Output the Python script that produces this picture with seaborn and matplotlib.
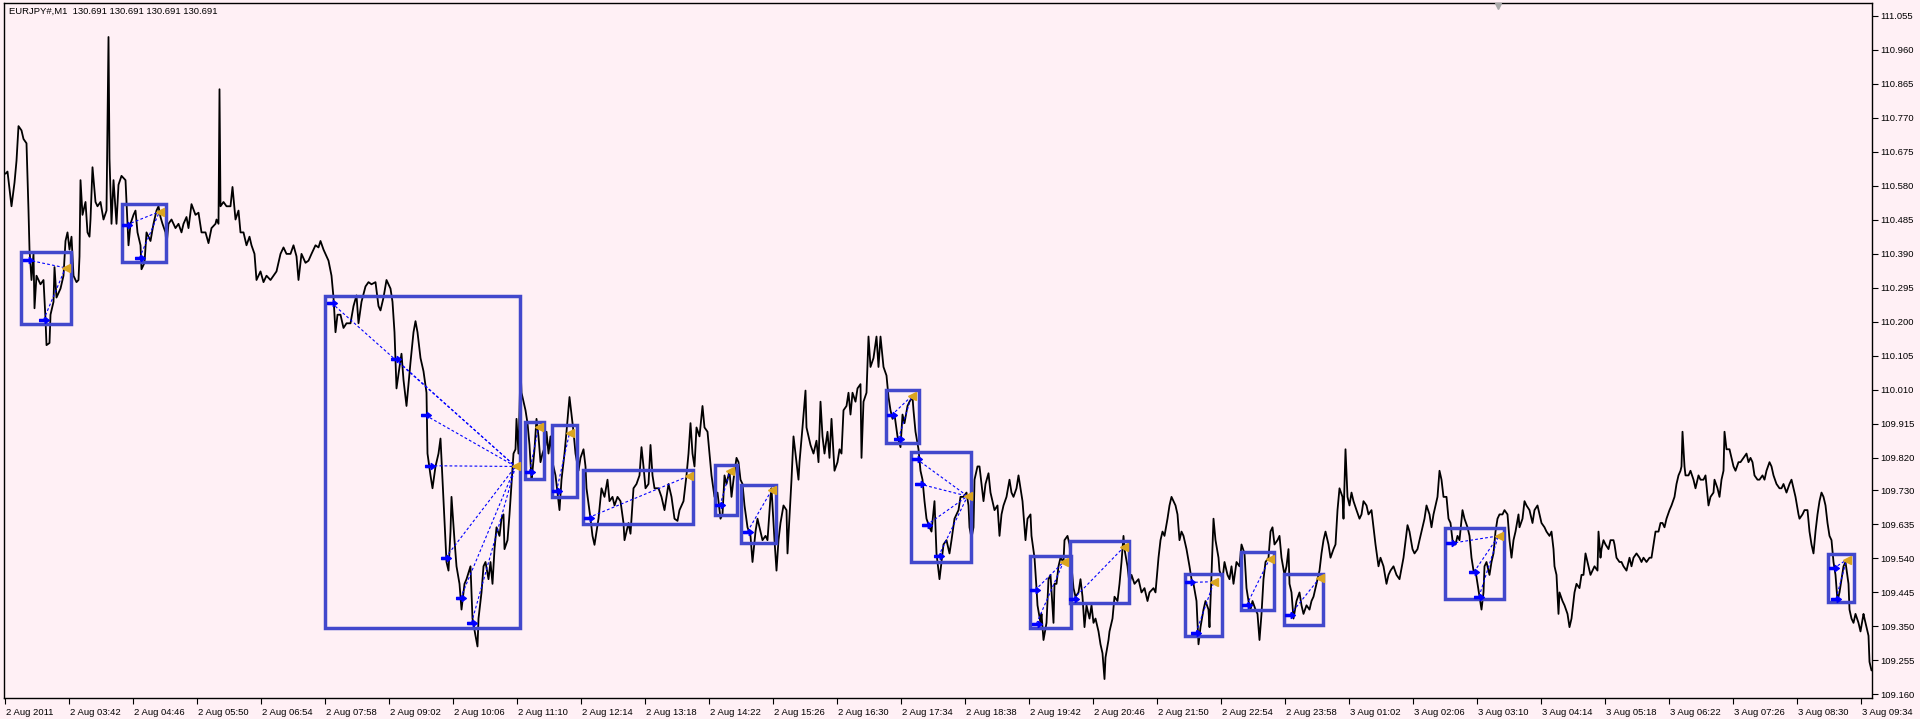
import numpy as np
import matplotlib
matplotlib.use("Agg")
import matplotlib.pyplot as plt
import seaborn as sns
from matplotlib.path import Path
from matplotlib.patches import Rectangle
import matplotlib.transforms as mtransforms

# ---------------- data ----------------
symbol_label = "EURJPY#,M1  130.691 130.691 130.691 130.691"

# minutes after 2 Aug 2011 02:38 (one bar per minute)
series_minutes = [
    1, 3, 7, 10, 12, 14, 17, 19, 22, 24, 25, 27, 29, 30, 32, 36, 39, 41, 42, 45,
    46, 49, 50, 52, 56, 59, 61, 63, 65, 67, 69, 72, 74, 75, 76, 78, 81, 83, 85, 86,
    88, 91, 93, 96, 99, 102, 104, 105, 107, 109, 112, 114, 117, 121, 122, 124, 126, 129, 131, 133,
    136, 137, 140, 142, 146, 149, 152, 154, 156, 158, 161, 162, 164, 167, 171, 174, 177, 179, 182, 184,
    187, 191, 194, 197, 201, 204, 207, 211, 212, 214, 215, 216, 219, 222, 226, 228, 231, 234, 236, 239,
    242, 245, 247, 250, 252, 256, 259, 262, 266, 269, 272, 276, 279, 282, 286, 289, 292, 294, 297, 301,
    304, 307, 311, 314, 316, 319, 324, 327, 329, 331, 333, 336, 339, 342, 346, 349, 352, 354, 357, 361,
    364, 367, 371, 374, 376, 379, 382, 386, 388, 390, 392, 395, 397, 399, 402, 404, 406, 409, 411, 413,
    416, 419, 422, 423, 426, 428, 431, 434, 436, 438, 440, 442, 444, 446, 447, 450, 452, 455, 457, 460,
    462, 466, 468, 471, 473,
    474, 477, 479, 481, 484, 486, 488, 490, 492, 495, 497, 499, 500, 503, 505, 507, 509, 511, 512, 514,
    516, 517, 519, 521, 523, 525, 527, 528, 530, 532, 534, 536, 538, 541, 542, 544, 546, 548, 551, 553,
    555, 557, 560, 562, 565, 567, 569, 571, 574, 576, 579, 581, 582, 586, 588, 590, 594, 597, 600, 603,
    605, 608, 610, 613, 616, 619, 620, 624, 626, 629, 632, 635, 637, 639, 641, 644, 646, 648, 650, 654,
    657, 660, 664, 667, 670, 673, 675, 679, 682, 684, 686, 688, 690, 692, 695, 698, 700, 703, 705, 707,
    710, 713, 716, 718, 720, 722, 725, 727, 729, 732, 734, 736, 738, 740, 743, 746, 748, 751, 753, 756,
    758, 761, 763, 766, 767, 770, 772, 774, 776, 779, 782, 783, 786, 787, 789, 791, 794, 795, 798, 801,
    802, 806, 809, 812, 814, 816, 818, 820, 823, 825, 827, 830, 833, 835, 837, 839, 842, 844, 846, 848,
    851, 853, 856, 857, 859, 862, 864, 866, 869, 872, 874, 876, 879, 882, 884, 886, 888, 890, 893, 896,
    898, 900, 903, 905, 908, 909, 911, 914, 916, 918, 920, 922, 925, 927, 930, 932, 935, 937, 939, 942,
    945,
    947, 950, 954, 956, 959, 962, 964, 965, 967, 969, 970, 973, 975, 977, 979, 981, 984, 986, 988, 990,
    993, 995, 997, 999, 1002, 1005, 1007, 1009, 1012, 1014, 1016, 1018, 1021, 1023, 1026, 1027, 1030, 1032, 1033, 1036,
    1037, 1039, 1042, 1044, 1046, 1049, 1050, 1052, 1054, 1056, 1059, 1060, 1063, 1065, 1067, 1069, 1071, 1074, 1076, 1078,
    1080, 1082, 1085, 1087, 1089, 1091, 1094, 1096, 1098, 1100, 1101, 1104, 1105, 1108, 1110, 1113, 1115, 1117, 1119, 1120,
    1123, 1125, 1127, 1130, 1134, 1137, 1140, 1143, 1145, 1149, 1151, 1154, 1156, 1158, 1160, 1163, 1165, 1167, 1169, 1171,
    1173, 1175, 1177, 1179, 1182, 1185, 1187, 1189, 1192, 1194, 1196, 1199, 1201, 1204, 1205, 1207, 1209, 1211, 1214, 1215,
    1218, 1220, 1223, 1225, 1227, 1229, 1232, 1235, 1237, 1240, 1242, 1244, 1246, 1248, 1251, 1253, 1255, 1257, 1259, 1261,
    1264, 1266, 1268, 1270, 1273, 1275, 1277, 1280, 1282, 1284, 1285, 1287, 1289, 1292, 1295, 1297, 1299, 1302, 1305, 1307,
    1309, 1312, 1315, 1317, 1319, 1321, 1324, 1326, 1329, 1331, 1333, 1335, 1338, 1339, 1341, 1343, 1345, 1347, 1349, 1352,
    1355, 1357, 1359, 1362, 1364, 1367, 1369, 1371, 1374, 1376, 1379, 1382, 1384, 1386, 1389, 1392, 1395,
    1399, 1403, 1405, 1408, 1410, 1413, 1415, 1418, 1420, 1422, 1425, 1427, 1429, 1432, 1433, 1435, 1437, 1439, 1442, 1444,
    1446, 1448, 1451, 1453, 1455, 1458, 1460, 1463, 1465, 1467, 1469, 1471, 1473, 1475, 1477, 1479, 1480, 1482, 1485, 1487,
    1489, 1491, 1493, 1495, 1498, 1500, 1503, 1505, 1507, 1509, 1511, 1514, 1515, 1518, 1520, 1522, 1525, 1528, 1530, 1533,
    1535, 1537, 1540, 1542, 1545, 1547, 1549, 1550, 1552, 1554, 1555, 1558, 1560, 1563, 1565, 1567, 1569, 1570, 1572, 1575,
    1577, 1579, 1581, 1584, 1586, 1588, 1590, 1593, 1594, 1596, 1597, 1599, 1601, 1604, 1606, 1609, 1610, 1612, 1615, 1617,
    1619, 1622, 1625, 1627, 1629, 1632, 1635, 1637, 1639, 1642, 1645, 1647, 1649, 1651, 1654, 1656, 1658, 1660, 1662, 1665,
    1667, 1670, 1672, 1674, 1676, 1677, 1678, 1680, 1681, 1684, 1686, 1689, 1691, 1694, 1696, 1699, 1701, 1704, 1706, 1709,
    1710, 1713, 1715, 1717, 1719, 1720, 1722, 1725, 1727, 1729, 1731, 1734, 1736, 1739, 1742, 1744, 1746, 1748, 1750, 1753,
    1755, 1758, 1760, 1762, 1765, 1767, 1769, 1772, 1775, 1777, 1779, 1782, 1785, 1787, 1789, 1791, 1794, 1795, 1798, 1800,
    1803, 1805, 1807, 1809, 1811, 1813, 1815, 1817, 1819, 1821, 1823, 1825, 1827, 1829, 1831, 1833, 1835, 1837, 1839, 1841,
    1844, 1845, 1847, 1849, 1851, 1854, 1856, 1859, 1860, 1862, 1864, 1865, 1867,
]

series_prices = [
    110.614, 110.620, 110.523, 110.589, 110.650, 110.747, 110.735, 110.711, 110.699, 110.511, 110.402, 110.317, 110.390, 110.238, 110.329, 110.305, 110.317, 110.208, 110.135, 110.141,
    110.220, 110.256, 110.353, 110.268, 110.293, 110.329, 110.426, 110.450, 110.402, 110.438, 110.329, 110.311, 110.317, 110.383, 110.596, 110.499, 110.535, 110.450, 110.438, 110.486,
    110.632, 110.535, 110.523, 110.535, 110.486, 110.511, 110.996, 110.656, 110.474, 110.596, 110.474, 110.583, 110.608, 110.596, 110.535, 110.414, 110.474, 110.499, 110.511, 110.450,
    110.414, 110.347, 110.365, 110.450, 110.426, 110.474, 110.511, 110.523, 110.493, 110.474, 110.450, 110.414, 110.474, 110.486, 110.462, 110.474, 110.450, 110.474, 110.493, 110.462,
    110.529, 110.499, 110.505, 110.450, 110.450, 110.420, 110.462, 110.474, 110.486, 110.474, 110.850, 110.523, 110.535, 110.523, 110.523, 110.577, 110.486, 110.511, 110.450, 110.450,
    110.414, 110.438, 110.414, 110.390, 110.317, 110.341, 110.311, 110.329, 110.317, 110.329, 110.341, 110.390, 110.408, 110.390, 110.390, 110.414, 110.383, 110.317, 110.390, 110.365,
    110.371, 110.390, 110.414, 110.408, 110.426, 110.402, 110.371, 110.329, 110.268, 110.171, 110.220, 110.220, 110.183, 110.196, 110.196, 110.244, 110.274, 110.196, 110.256, 110.299,
    110.311, 110.305, 110.311, 110.244, 110.232, 110.268, 110.317, 110.293, 110.256, 110.171, 110.014, 110.074, 110.111, 110.038, 109.965, 110.026, 110.087, 110.171, 110.202, 110.171,
    110.099, 110.062, 110.002, 109.832, 109.771, 109.735, 109.796, 109.832, 109.874, 109.759, 109.650, 109.529, 109.505, 109.614, 109.711, 109.590, 109.517, 109.468, 109.396, 109.468,
    109.481, 109.517, 109.371, 109.323, 109.293,
    109.371, 109.444, 109.517, 109.529, 109.481, 109.529, 109.468, 109.565, 109.626, 109.602, 109.650, 109.662, 109.565, 109.590, 109.662, 109.747, 109.832, 109.844, 109.929, 109.832,
    110.074, 110.002, 109.977, 109.953, 109.917, 109.856, 109.759, 109.784, 109.844, 109.929, 109.880, 109.808, 109.832, 109.856, 109.893, 109.832, 109.880, 109.808, 109.771, 109.723,
    109.674, 109.759, 109.832, 109.893, 109.990, 109.941, 109.893, 109.832, 109.784, 109.820, 109.844, 109.796, 109.735, 109.650, 109.602, 109.577, 109.650, 109.735, 109.711, 109.759,
    109.699, 109.711, 109.687, 109.711, 109.699, 109.638, 109.590, 109.638, 109.608, 109.735, 109.747, 109.771, 109.850, 109.796, 109.735, 109.747, 109.856, 109.771, 109.735, 109.735,
    109.711, 109.674, 109.747, 109.711, 109.650, 109.644, 109.674, 109.699, 109.771, 109.832, 109.917, 109.832, 109.796, 109.905, 109.880, 109.965, 109.905, 109.893, 109.832, 109.771,
    109.711, 109.723, 109.650, 109.662, 109.771, 109.747, 109.784, 109.711, 109.759, 109.820, 109.808, 109.759, 109.747, 109.687, 109.626, 109.602, 109.529, 109.614, 109.650, 109.614,
    109.590, 109.602, 109.590, 109.711, 109.735, 109.590, 109.505, 109.590, 109.638, 109.687, 109.674, 109.553, 109.711, 109.759, 109.880, 109.832, 109.759, 109.808, 109.905, 110.008,
    109.905, 109.856, 109.832, 109.868, 109.808, 109.977, 109.880, 109.832, 109.893, 109.820, 109.929, 109.784, 109.808, 109.844, 109.832, 109.953, 109.965, 110.002, 109.941, 110.002,
    109.977, 110.014, 110.026, 109.820, 109.977, 110.002, 110.159, 110.074, 110.099, 110.159, 110.074, 110.159, 110.074, 110.050, 109.990, 109.953, 109.929, 109.941, 109.880, 109.850,
    109.941, 109.917, 109.965, 109.977, 109.990, 109.953, 109.893, 109.844, 109.784, 109.759, 109.699, 109.650, 109.626, 109.614, 109.699, 109.553, 109.481, 109.529, 109.578, 109.590,
    109.553,
    109.590, 109.650, 109.674, 109.711, 109.711, 109.723, 109.687, 109.626, 109.596, 109.626, 109.759, 109.796, 109.796, 109.747, 109.699, 109.747, 109.777, 109.723, 109.699, 109.674,
    109.687, 109.602, 109.662, 109.687, 109.711, 109.759, 109.723, 109.711, 109.735, 109.771, 109.735, 109.699, 109.590, 109.650, 109.662, 109.602, 109.541, 109.456, 109.408, 109.359,
    109.384, 109.311, 109.359, 109.481, 109.493, 109.359, 109.468, 109.468, 109.517, 109.541, 109.529, 109.590, 109.602, 109.578, 109.517, 109.456, 109.432, 109.444, 109.481, 109.432,
    109.347, 109.408, 109.371, 109.408, 109.359, 109.371, 109.335, 109.299, 109.274, 109.202, 109.262, 109.311, 109.335, 109.371, 109.432, 109.420, 109.468, 109.529, 109.602, 109.565,
    109.517, 109.468, 109.493, 109.468, 109.481, 109.444, 109.456, 109.420, 109.444, 109.456, 109.444, 109.541, 109.590, 109.614, 109.602, 109.650, 109.687, 109.711, 109.699, 109.687,
    109.662, 109.590, 109.614, 109.602, 109.565, 109.517, 109.481, 109.468, 109.420, 109.299, 109.347, 109.396, 109.420, 109.396, 109.347, 109.493, 109.650, 109.590, 109.541, 109.505,
    109.481, 109.529, 109.493, 109.481, 109.517, 109.468, 109.529, 109.517, 109.578, 109.553, 109.456, 109.420, 109.396, 109.420, 109.396, 109.384, 109.311, 109.384, 109.481, 109.529,
    109.541, 109.614, 109.626, 109.578, 109.590, 109.602, 109.541, 109.493, 109.517, 109.565, 109.468, 109.444, 109.371, 109.420, 109.444, 109.408, 109.384, 109.408, 109.396, 109.420,
    109.432, 109.468, 109.505, 109.553, 109.590, 109.614, 109.578, 109.541, 109.565, 109.578, 109.674, 109.735, 109.711, 109.650, 109.844, 109.711, 109.687, 109.723, 109.699, 109.674,
    109.650, 109.662, 109.699, 109.687, 109.662, 109.674, 109.626, 109.578, 109.517, 109.541, 109.517, 109.468, 109.493, 109.505, 109.517, 109.493, 109.481,
    109.541, 109.632, 109.614, 109.565, 109.553, 109.565, 109.590, 109.626, 109.650, 109.687, 109.662, 109.626, 109.662, 109.699, 109.711, 109.784, 109.759, 109.711, 109.711, 109.650,
    109.638, 109.590, 109.578, 109.602, 109.590, 109.674, 109.650, 109.626, 109.602, 109.541, 109.505, 109.505, 109.468, 109.432, 109.396, 109.444, 109.517, 109.529, 109.493, 109.529,
    109.553, 109.614, 109.650, 109.662, 109.662, 109.674, 109.662, 109.590, 109.541, 109.590, 109.614, 109.662, 109.626, 109.650, 109.699, 109.687, 109.674, 109.638, 109.674, 109.687,
    109.662, 109.638, 109.626, 109.614, 109.602, 109.614, 109.565, 109.517, 109.493, 109.384, 109.444, 109.420, 109.408, 109.384, 109.347, 109.371, 109.420, 109.444, 109.468, 109.456,
    109.493, 109.493, 109.553, 109.517, 109.493, 109.505, 109.517, 109.505, 109.614, 109.541, 109.565, 109.590, 109.578, 109.565, 109.590, 109.590, 109.578, 109.541, 109.529, 109.529,
    109.517, 109.505, 109.541, 109.517, 109.541, 109.553, 109.541, 109.529, 109.541, 109.529, 109.541, 109.541, 109.578, 109.614, 109.614, 109.638, 109.638, 109.626, 109.650, 109.674,
    109.687, 109.711, 109.747, 109.771, 109.784, 109.796, 109.893, 109.796, 109.771, 109.771, 109.784, 109.759, 109.735, 109.771, 109.759, 109.759, 109.771, 109.687, 109.711, 109.723,
    109.759, 109.735, 109.711, 109.759, 109.784, 109.893, 109.844, 109.844, 109.820, 109.796, 109.784, 109.808, 109.808, 109.820, 109.832, 109.808, 109.820, 109.808, 109.771, 109.759,
    109.759, 109.771, 109.759, 109.784, 109.808, 109.796, 109.771, 109.747, 109.735, 109.735, 109.747, 109.723, 109.747, 109.759, 109.735, 109.711, 109.662, 109.650, 109.662, 109.674,
    109.674, 109.614, 109.578, 109.553, 109.614, 109.662, 109.699, 109.723, 109.711, 109.687, 109.638, 109.602, 109.590, 109.529, 109.493, 109.420, 109.444, 109.481, 109.517, 109.529,
    109.468, 109.396, 109.371, 109.359, 109.384, 109.359, 109.335, 109.384, 109.371, 109.347, 109.323, 109.250, 109.226,
]

time_labels = [
    "2 Aug 2011", "2 Aug 03:42", "2 Aug 04:46", "2 Aug 05:50", "2 Aug 06:54", "2 Aug 07:58",
    "2 Aug 09:02", "2 Aug 10:06", "2 Aug 11:10", "2 Aug 12:14", "2 Aug 13:18", "2 Aug 14:22",
    "2 Aug 15:26", "2 Aug 16:30", "2 Aug 17:34", "2 Aug 18:38", "2 Aug 19:42", "2 Aug 20:46",
    "2 Aug 21:50", "2 Aug 22:54", "2 Aug 23:58", "3 Aug 01:02", "3 Aug 02:06", "3 Aug 03:10",
    "3 Aug 04:14", "3 Aug 05:18", "3 Aug 06:22", "3 Aug 07:26", "3 Aug 08:30", "3 Aug 09:34",
]
minutes_per_label = 64

price_ticks = [111.055, 110.960, 110.865, 110.770, 110.675, 110.580, 110.485, 110.390, 110.295,
               110.200, 110.105, 110.010, 109.915, 109.820, 109.730, 109.635, 109.540, 109.445,
               109.350, 109.255, 109.160]

# pattern boxes
box_start = [16, 117, 320, 520.5, 547.5, 578, 710.5, 736.5, 881.5, 906.5, 1025.5, 1065, 1180, 1236.5, 1279.5, 1440.5, 1823.5]
box_end = [66, 161, 515, 539.5, 572, 688, 732, 771, 914.5, 966, 1066, 1124.5, 1217.5, 1269.5, 1318, 1499.5, 1849]
box_top = [110.395, 110.529, 110.273, 109.919, 109.911, 109.786, 109.799, 109.743, 110.011, 109.836, 109.547, 109.587, 109.496, 109.557, 109.496, 109.624, 109.551]
box_bottom = [110.194, 110.367, 109.344, 109.762, 109.711, 109.636, 109.659, 109.581, 109.862, 109.529, 109.344, 109.414, 109.323, 109.396, 109.353, 109.426, 109.418]

# target (gold) points of each box
exit_minute = [61, 155, 511, 534, 565, 684, 725.5, 767, 907, 963, 1059, 1119.5, 1209.5, 1265, 1315, 1494, 1842]
exit_price = [110.351, 110.508, 109.796, 109.905, 109.889, 109.769, 109.783, 109.729, 109.992, 109.713, 109.529, 109.571, 109.474, 109.537, 109.484, 109.602, 109.535]

# entry (blue arrow) points of each box
entry_minutes = [
    [23, 39], [122, 135], [327, 391, 421, 425, 441, 456, 467], [525], [552], [584], [715.5], [743],
    [887, 894], [912, 915, 922, 934], [1030.5, 1032], [1069], [1185.5, 1191.5], [1242], [1285.5],
    [1446, 1469.5, 1474.5], [1829, 1831.5],
]
entry_prices = [
    [110.373, 110.205], [110.471, 110.379], [110.253, 110.096, 109.939, 109.798, 109.541, 109.428, 109.359],
    [109.781], [109.727], [109.653], [109.687], [109.614],
    [109.939, 109.874], [109.817, 109.747, 109.632, 109.545], [109.450, 109.357], [109.426],
    [109.472, 109.331], [109.408], [109.381], [109.581, 109.501, 109.432], [109.511, 109.426],
]

# ---------------- style ----------------
BG = "#FFF0F5"
BOX_COLOR = "#4248CC"
ENTRY_COLOR = "#0000FF"
EXIT_COLOR = "#DAA520"

sns.set_theme(style="white")
plt.rcParams['font.family'] = ['Liberation Sans', 'DejaVu Sans']

W, H = 1920, 719
fig = plt.figure(figsize=(W / 100, H / 100), dpi=100, facecolor=BG)
ax = fig.add_axes([4 / W, 1 - 698 / H, 1868 / W, 695 / H], facecolor=BG)

sns.lineplot(x=series_minutes, y=series_prices, ax=ax, color="black", lw=1.3,
             sort=False, estimator=None, zorder=3)

# boxes, links and markers
arrow_verts = [(-1.0, -0.22), (0.15, -0.22), (0.15, -0.62), (1.0, 0.0), (0.15, 0.62),
               (0.15, 0.22), (-1.0, 0.22), (-1.0, -0.22)]
arrow_codes = [Path.MOVETO] + [Path.LINETO] * 6 + [Path.CLOSEPOLY]
arrow_marker = Path(arrow_verts, arrow_codes)

for i in range(len(box_start)):
    ax.add_patch(Rectangle((box_start[i], box_bottom[i]), box_end[i] - box_start[i],
                           box_top[i] - box_bottom[i], fill=False, ec=BOX_COLOR,
                           lw=2.5, zorder=4))
    for em, ep in zip(entry_minutes[i], entry_prices[i]):
        ax.plot([em, exit_minute[i]], [ep, exit_price[i]], color=ENTRY_COLOR, lw=0.8,
                ls=(0, (2.5, 2.0)), zorder=5)
    ax.plot(entry_minutes[i], entry_prices[i], ls="none", marker=arrow_marker, ms=7,
            color=ENTRY_COLOR, mec=ENTRY_COLOR, zorder=6)
    ax.plot([exit_minute[i]], [exit_price[i]], ls="none", marker="<", ms=5.5,
            color=EXIT_COLOR, mec=EXIT_COLOR, zorder=6)

# axes limits
ax.set_xlim(-0.5, 1867.5)
ax.set_ylim(109.149, 111.091)

# spines
for s in ax.spines.values():
    s.set_visible(True)
    s.set_color("black")
    s.set_linewidth(1.0)

# y axis on right
ax.yaxis.tick_right()
ax.set_yticks(price_ticks)
ax.set_yticklabels([f"{v:.3f}" for v in price_ticks])
ax.tick_params(axis="y", which="major", direction="out", length=4, width=0.8,
               pad=2, labelsize=6.8, colors="black", right=True, left=False)

# x axis
ax.set_xticks(np.arange(len(time_labels)) * minutes_per_label)
ax.set_xticklabels(time_labels)
ax.tick_params(axis="x", which="major", direction="out", length=4, width=0.8,
               pad=3, labelsize=6.8, colors="black", bottom=True)
offset = mtransforms.ScaledTranslation(1 / 100, 0, fig.dpi_scale_trans)
for lbl in ax.get_xticklabels():
    lbl.set_horizontalalignment("left")
    lbl.set_transform(lbl.get_transform() + offset)

ax.set_xlabel("")
ax.set_ylabel("")
ax.grid(False)

# header text
fig.text(9 / W, 1 - 11 / H, symbol_label, ha="left", va="center", fontsize=6.8, color="black")

# chart-shift marker at the top
ax.plot([0.8], [0.996], transform=ax.transAxes, marker="v", ms=5, color="#A8A8A8",
        ls="none", clip_on=False, zorder=7)

fig.savefig("out.png", dpi=100, facecolor=BG)
